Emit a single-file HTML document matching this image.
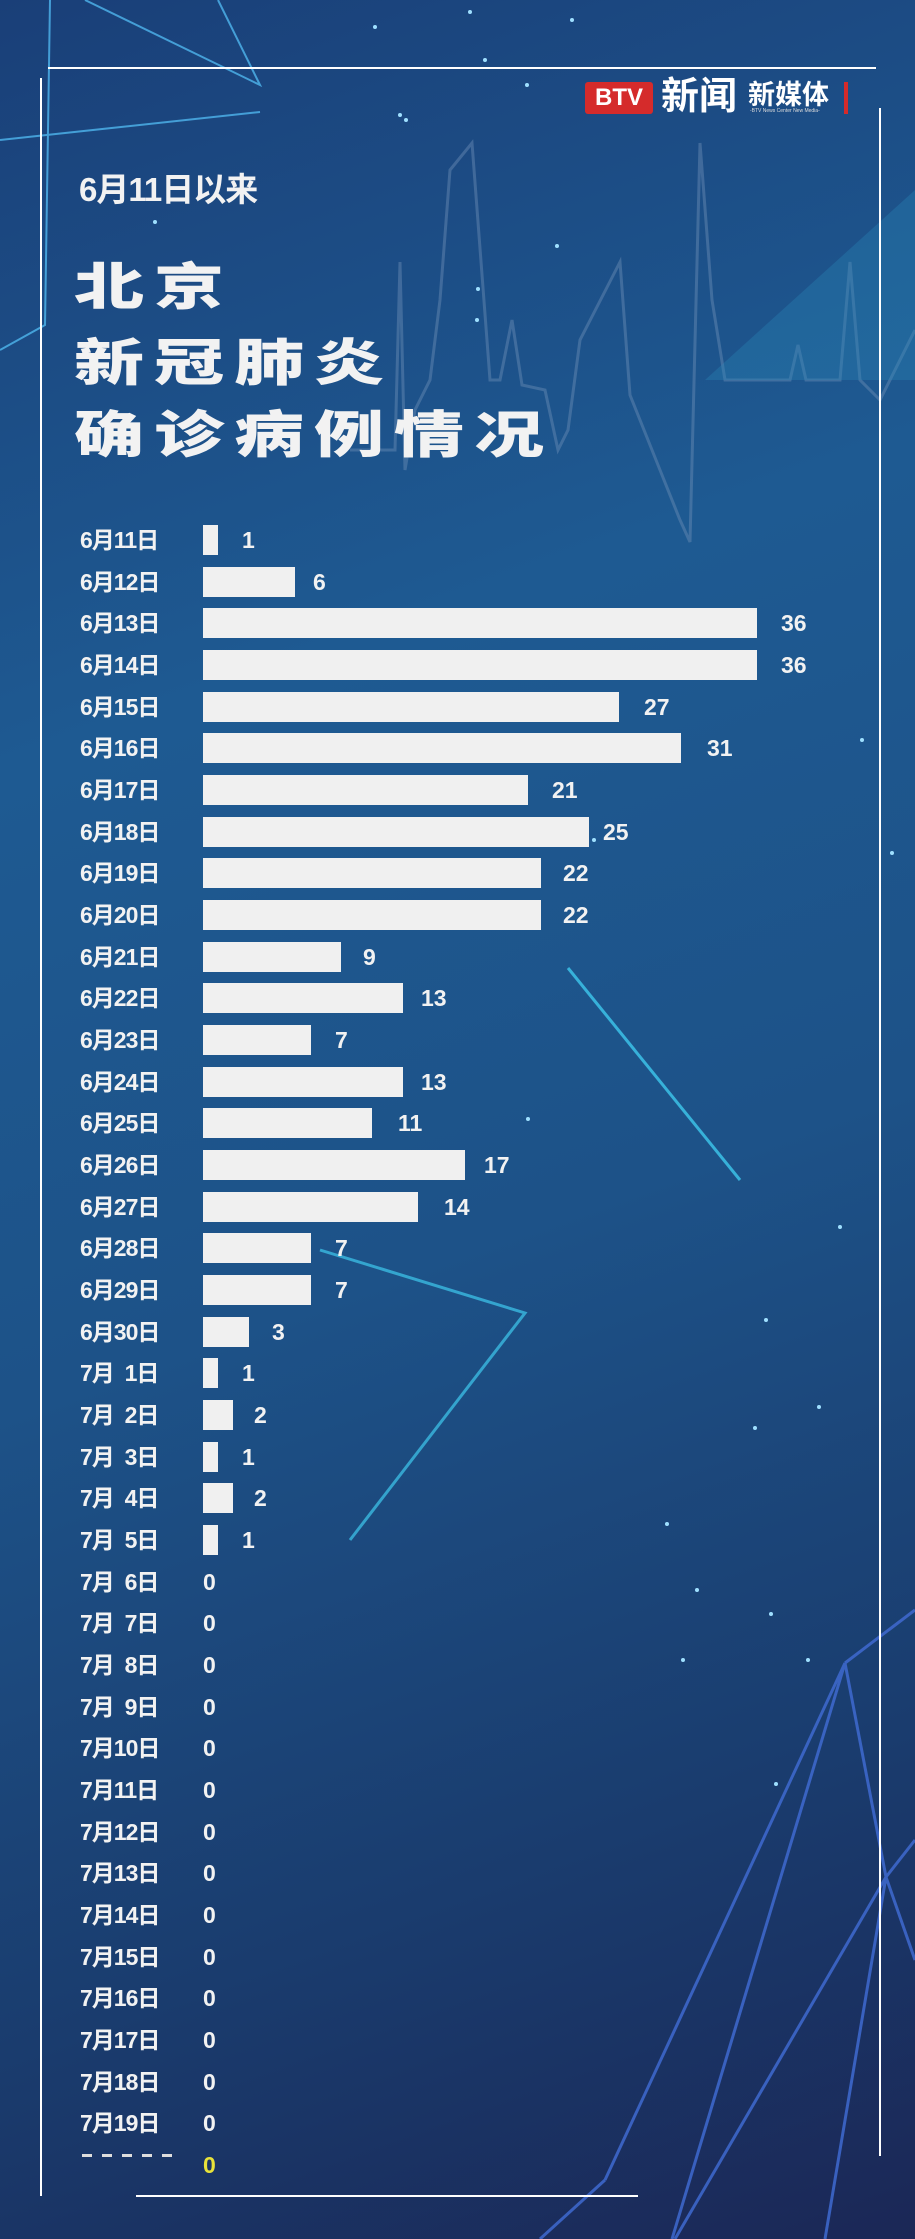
<!DOCTYPE html>
<html><head><meta charset="utf-8"><style>
*{margin:0;padding:0}
body{width:915px;height:2239px;overflow:hidden;position:relative;font-family:"Liberation Sans","Noto Sans CJK SC",sans-serif;color:#f2f2f2;
background:linear-gradient(160deg,#1a3f78 0%,#1e5a92 30%,#1d5288 55%,#1a3c6e 80%,#1b2756 100%);}
.a{position:absolute}
.l{position:absolute;left:80px;width:100px;height:30px;line-height:30px;font-size:23px;font-weight:bold;white-space:pre;letter-spacing:-1px}
.b{position:absolute;left:203px;height:30px;background:#f0f0f0}
.v{position:absolute;height:30px;line-height:30px;font-size:23px;font-weight:bold}
.t{position:absolute;left:74px;font-size:70px;font-weight:900;line-height:70px;color:#f2f2f2;letter-spacing:10px;white-space:nowrap;transform:scaleY(0.72);transform-origin:0 50%}
</style></head><body>
<svg class="a" style="left:0;top:0" width="915" height="2239">
<g stroke="#4fb6ee" stroke-width="2" fill="none" opacity="0.8">
<polyline points="85,0 260,85 218,0"/>
<polyline points="0,140 260,112"/>
<polyline points="0,350 45,325 50,0"/>
</g>
<polyline fill="none" stroke="#6d8fb5" stroke-width="3" opacity="0.45" points="350,450 395,450 400,262 405,470 415,410 430,380 440,300 450,170 472,143 490,380 500,380 512,320 522,385 545,390 558,450 568,430 580,340 620,262 630,395 660,470 680,520 690,542 700,143 712,300 725,380 790,380 798,345 806,380 840,380 850,262 860,380 880,400 915,330"/>
<polygon points="915,190 705,380 915,380" fill="#2b86b8" opacity="0.35"/>
<line x1="568" y1="968" x2="740" y2="1180" stroke="#3ec9ee" stroke-width="3" opacity="0.8"/>
<polyline points="320,1250 525,1313 350,1540" fill="none" stroke="#3ec9ee" stroke-width="3" opacity="0.7"/>
<g stroke="#3f6ad0" stroke-width="3" fill="none" opacity="0.85">
<line x1="845" y1="1663" x2="915" y2="1610"/>
<line x1="845" y1="1663" x2="672" y2="2239"/>
<line x1="845" y1="1663" x2="605" y2="2180"/>
<line x1="845" y1="1663" x2="886" y2="1877"/>
<line x1="886" y1="1877" x2="915" y2="1960"/>
<line x1="886" y1="1877" x2="675" y2="2239"/>
<line x1="886" y1="1877" x2="825" y2="2239"/>
<line x1="886" y1="1877" x2="915" y2="1840"/>
<line x1="605" y1="2180" x2="540" y2="2239"/>
</g>
<g stroke="#ffffff" stroke-width="2" fill="none">
<line x1="48" y1="68" x2="876" y2="68"/>
<line x1="41" y1="78" x2="41" y2="2196"/>
<line x1="880" y1="108" x2="880" y2="2156"/>
<line x1="136" y1="2196" x2="638" y2="2196"/>
</g>
<g fill="#9fe0ff">
<circle cx="470" cy="12" r="2"/><circle cx="375" cy="27" r="2"/><circle cx="485" cy="60" r="2"/><circle cx="572" cy="20" r="2"/><circle cx="400" cy="115" r="2"/><circle cx="406" cy="120" r="2"/><circle cx="527" cy="85" r="2"/><circle cx="155" cy="222" r="2"/><circle cx="557" cy="246" r="2"/><circle cx="477" cy="320" r="2"/><circle cx="478" cy="289" r="2"/><circle cx="862" cy="740" r="2"/><circle cx="892" cy="853" r="2"/><circle cx="594" cy="840" r="2"/><circle cx="528" cy="1119" r="2"/><circle cx="840" cy="1227" r="2"/><circle cx="766" cy="1320" r="2"/><circle cx="819" cy="1407" r="2"/><circle cx="755" cy="1428" r="2"/><circle cx="667" cy="1524" r="2"/><circle cx="697" cy="1590" r="2"/><circle cx="771" cy="1614" r="2"/><circle cx="683" cy="1660" r="2"/><circle cx="808" cy="1660" r="2"/><circle cx="776" cy="1784" r="2"/>
</g>
</svg>

<div class="a" style="left:585px;top:82px;width:68px;height:32px;background:#d52b2b;border-radius:3px;color:#fff;font-size:24px;font-weight:bold;line-height:32px;text-align:center">BTV</div>
<div class="a" style="left:661px;top:76px;font-size:38px;font-weight:bold;line-height:42px;color:#fff">新闻</div>
<div class="a" style="left:748px;top:80px;font-size:27px;font-weight:bold;line-height:30px;color:#fff">新媒体</div>
<div class="a" style="left:750px;top:108px;font-size:5px;color:#ddd">-BTV News Center New Media-</div>
<div class="a" style="left:844px;top:82px;width:4px;height:32px;background:#d52b2b"></div>

<div class="a" style="left:79px;top:170px;font-size:33px;font-weight:bold;line-height:40px;color:#f2f2f2;letter-spacing:-1px">6月11日以来</div>
<div class="t" style="top:252px">北京</div>
<div class="t" style="top:328px">新冠肺炎</div>
<div class="t" style="top:400px">确诊病例情况</div>

<div class="l" style="top:525px">6月11日</div><div class="b" style="top:525px;width:15px"></div><div class="v" style="top:525px;left:242px">1</div>
<div class="l" style="top:567px">6月12日</div><div class="b" style="top:567px;width:92px"></div><div class="v" style="top:567px;left:313px">6</div>
<div class="l" style="top:608px">6月13日</div><div class="b" style="top:608px;width:554px"></div><div class="v" style="top:608px;left:781px">36</div>
<div class="l" style="top:650px">6月14日</div><div class="b" style="top:650px;width:554px"></div><div class="v" style="top:650px;left:781px">36</div>
<div class="l" style="top:692px">6月15日</div><div class="b" style="top:692px;width:416px"></div><div class="v" style="top:692px;left:644px">27</div>
<div class="l" style="top:733px">6月16日</div><div class="b" style="top:733px;width:478px"></div><div class="v" style="top:733px;left:707px">31</div>
<div class="l" style="top:775px">6月17日</div><div class="b" style="top:775px;width:325px"></div><div class="v" style="top:775px;left:552px">21</div>
<div class="l" style="top:817px">6月18日</div><div class="b" style="top:817px;width:386px"></div><div class="v" style="top:817px;left:603px">25</div>
<div class="l" style="top:858px">6月19日</div><div class="b" style="top:858px;width:338px"></div><div class="v" style="top:858px;left:563px">22</div>
<div class="l" style="top:900px">6月20日</div><div class="b" style="top:900px;width:338px"></div><div class="v" style="top:900px;left:563px">22</div>
<div class="l" style="top:942px">6月21日</div><div class="b" style="top:942px;width:138px"></div><div class="v" style="top:942px;left:363px">9</div>
<div class="l" style="top:983px">6月22日</div><div class="b" style="top:983px;width:200px"></div><div class="v" style="top:983px;left:421px">13</div>
<div class="l" style="top:1025px">6月23日</div><div class="b" style="top:1025px;width:108px"></div><div class="v" style="top:1025px;left:335px">7</div>
<div class="l" style="top:1067px">6月24日</div><div class="b" style="top:1067px;width:200px"></div><div class="v" style="top:1067px;left:421px">13</div>
<div class="l" style="top:1108px">6月25日</div><div class="b" style="top:1108px;width:169px"></div><div class="v" style="top:1108px;left:398px">11</div>
<div class="l" style="top:1150px">6月26日</div><div class="b" style="top:1150px;width:262px"></div><div class="v" style="top:1150px;left:484px">17</div>
<div class="l" style="top:1192px">6月27日</div><div class="b" style="top:1192px;width:215px"></div><div class="v" style="top:1192px;left:444px">14</div>
<div class="l" style="top:1233px">6月28日</div><div class="b" style="top:1233px;width:108px"></div><div class="v" style="top:1233px;left:335px">7</div>
<div class="l" style="top:1275px">6月29日</div><div class="b" style="top:1275px;width:108px"></div><div class="v" style="top:1275px;left:335px">7</div>
<div class="l" style="top:1317px">6月30日</div><div class="b" style="top:1317px;width:46px"></div><div class="v" style="top:1317px;left:272px">3</div>
<div class="l" style="top:1358px">7月  1日</div><div class="b" style="top:1358px;width:15px"></div><div class="v" style="top:1358px;left:242px">1</div>
<div class="l" style="top:1400px">7月  2日</div><div class="b" style="top:1400px;width:30px"></div><div class="v" style="top:1400px;left:254px">2</div>
<div class="l" style="top:1442px">7月  3日</div><div class="b" style="top:1442px;width:15px"></div><div class="v" style="top:1442px;left:242px">1</div>
<div class="l" style="top:1483px">7月  4日</div><div class="b" style="top:1483px;width:30px"></div><div class="v" style="top:1483px;left:254px">2</div>
<div class="l" style="top:1525px">7月  5日</div><div class="b" style="top:1525px;width:15px"></div><div class="v" style="top:1525px;left:242px">1</div>
<div class="l" style="top:1567px">7月  6日</div><div class="v" style="top:1567px;left:203px">0</div>
<div class="l" style="top:1608px">7月  7日</div><div class="v" style="top:1608px;left:203px">0</div>
<div class="l" style="top:1650px">7月  8日</div><div class="v" style="top:1650px;left:203px">0</div>
<div class="l" style="top:1692px">7月  9日</div><div class="v" style="top:1692px;left:203px">0</div>
<div class="l" style="top:1733px">7月10日</div><div class="v" style="top:1733px;left:203px">0</div>
<div class="l" style="top:1775px">7月11日</div><div class="v" style="top:1775px;left:203px">0</div>
<div class="l" style="top:1817px">7月12日</div><div class="v" style="top:1817px;left:203px">0</div>
<div class="l" style="top:1858px">7月13日</div><div class="v" style="top:1858px;left:203px">0</div>
<div class="l" style="top:1900px">7月14日</div><div class="v" style="top:1900px;left:203px">0</div>
<div class="l" style="top:1942px">7月15日</div><div class="v" style="top:1942px;left:203px">0</div>
<div class="l" style="top:1983px">7月16日</div><div class="v" style="top:1983px;left:203px">0</div>
<div class="l" style="top:2025px">7月17日</div><div class="v" style="top:2025px;left:203px">0</div>
<div class="l" style="top:2067px">7月18日</div><div class="v" style="top:2067px;left:203px">0</div>
<div class="l" style="top:2108px">7月19日</div><div class="v" style="top:2108px;left:203px">0</div>
<div class="a" style="left:82px;top:2154px;width:92px;height:3px;background:repeating-linear-gradient(90deg,#ddd 0 10px,transparent 10px 20px)"></div>
<div class="v" style="top:2150px;left:203px;color:#e8e23a">0</div>
</body></html>
